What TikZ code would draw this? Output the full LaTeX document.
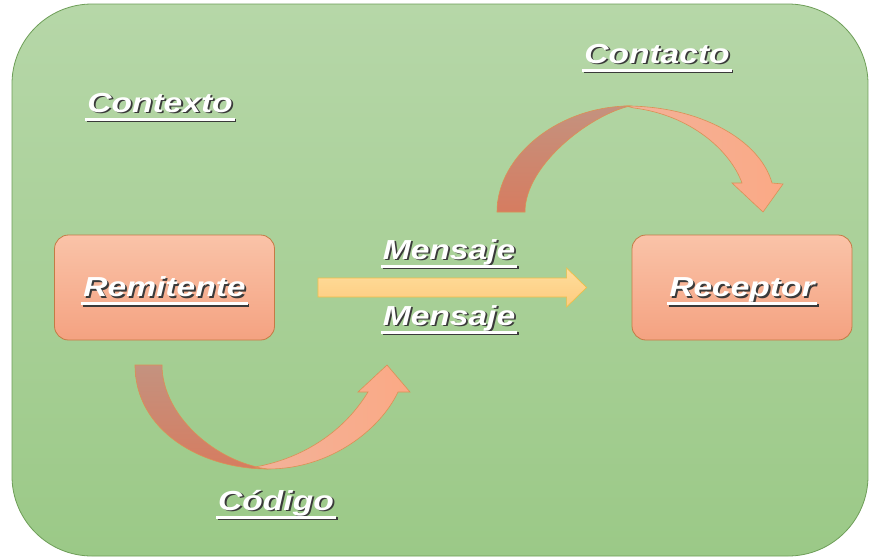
\documentclass[tikz,border=0pt]{standalone}
\usepackage{fontspec}
\newfontfamily\lblfont[FakeStretch=1.22]{Liberation Sans}
\usetikzlibrary{calc}

\definecolor{bgtop}{HTML}{B6D7A8}
\definecolor{bgbot}{HTML}{9BC987}
\definecolor{bgline}{HTML}{6E9E58}
\definecolor{boxtop}{HTML}{FAC3A8}
\definecolor{boxbot}{HTML}{F4A281}
\definecolor{boxline}{HTML}{C47B45}
\definecolor{msgtop}{HTML}{FFDD9C}
\definecolor{msgbot}{HTML}{FDCB7E}
\definecolor{msgline}{HTML}{EDBE4A}
\definecolor{backtop}{HTML}{C4927F}
\definecolor{backbot}{HTML}{D67C60}
\definecolor{fronttop}{HTML}{F2B29A}
\definecolor{frontbot}{HTML}{FBA985}
\definecolor{arcline}{HTML}{DB9055}
\definecolor{txtshadow}{HTML}{3A3A3A}

% underlined word, rule a little wider than the text
\newcommand\ulword[1]{\setbox0\hbox{#1}\rlap{\kern-2pt\raisebox{-8.5pt}{\rule{\dimexpr\wd0+4pt\relax}{3pt}}}\box0}
% white underlined word over a dark drop shadow
\newcommand\glowword[1]{\rlap{\kern1.8pt\raisebox{-1.8pt}{\color{txtshadow}\ulword{#1}}}{\color{white}\ulword{#1}}}

\tikzset{
  lbl/.style={inner sep=0pt, anchor=base,
    font=\lblfont\bfseries\itshape\fontsize{27.5}{30}\selectfont},
  termbox/.style={draw=boxline, line width=0.8pt, rounded corners=14pt,
    top color=boxtop, bottom color=boxbot, minimum width=220pt,
    minimum height=105pt, inner sep=0pt, text height=20pt, text depth=2pt,
    font=\lblfont\bfseries\itshape\fontsize{27.5}{30}\selectfont},
  msgarrow/.style={draw=msgline, line width=0.7pt, top color=msgtop, bottom color=msgbot},
  backband/.style={draw=arcline, line width=0.6pt, top color=backtop, bottom color=backbot},
  frontband/.style={draw=arcline, line width=0.6pt, left color=fronttop, right color=frontbot},
}

\begin{document}
\begin{tikzpicture}[x=1pt, y=-1pt]
  \useasboundingbox (0,0) rectangle (870,558);
  \fill[white] (0,0) rectangle (870,558);

  % green panel
  \draw[bgline, line width=0.8pt, top color=bgtop, bottom color=bgbot,
        rounded corners=80pt] (12,4) rectangle (868,556);

  % sender and receiver
  \node[termbox] (rem) at (164.5,287.5) {\glowword{Remitente}};
  \node[termbox] (rec) at (742,287.5) {\glowword{Receptor}};

  % message arrow between them
  \coordinate (mA) at ($(rem.east)+(43,0)$);
  \coordinate (mB) at ($(rec.west)+(-45,0)$);
  \path[msgarrow] ($(mA)+(0,-9.5)$) -- ($(mB)+(-20,-9.5)$) -- ($(mB)+(-20,-19.5)$)
      -- (mB) -- ($(mB)+(-20,19.5)$) -- ($(mB)+(-20,9.5)$) -- ($(mA)+(0,9.5)$) -- cycle;

  % code arrow (curving down and up)
  \path[backband] (135,365) .. controls (135,430) and (200,469) .. (268,469)
      .. controls (215,462) and (162,415) .. (162,365) -- cycle;
  \path[frontband] (268,469) .. controls (330,469) and (380,430) .. (398,392)
      -- (410,392) -- (387,365) -- (358,392) -- (368,392)
      .. controls (345,430) and (305,458) .. (255,467) -- cycle;

  % contact arrow (curving up and down)
  \path[backband] (497,212) .. controls (497,155) and (560,106) .. (630,106)
      .. controls (590,115) and (525,165) .. (525,212) -- cycle;
  \path[frontband] (626,106) .. controls (700,106) and (760,140) .. (772,183)
      -- (783,184) -- (763,212) -- (732,183) -- (742,183)
      .. controls (730,150) and (690,115) .. (634,108) -- cycle;

  % labels
  \node[lbl] (ctx) at (160,112) {\glowword{Contexto}};
  \node[lbl] (cnt) at (657,63) {\glowword{Contacto}};
  \node[lbl] (msg1) at (449,259) {\glowword{Mensaje}};
  \node[lbl] (msg2) at (449,325) {\glowword{Mensaje}};
  \node[lbl] (cod) at (276,510) {\glowword{Código}};
\end{tikzpicture}
\end{document}
